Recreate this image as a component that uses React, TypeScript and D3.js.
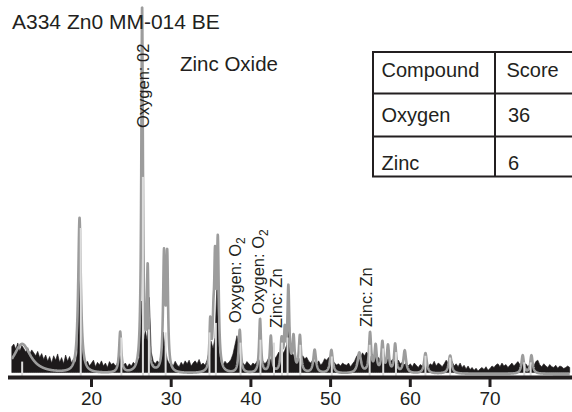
import React from "react";
import * as d3 from "d3";

// ---------- data ----------
const chartTitle = "A334 Zn0 MM-014 BE";
const phaseName = "Zinc Oxide";

// measured (black) pattern: counts every 0.25 deg from 10 deg
const blackStart = 10;
const blackStep = 0.25;
const blackCounts = [
  75, 82, 68, 85, 62, 78, 70, 60, 72, 55, 66, 58, 50, 62, 45, 56,
  40, 52, 35, 48, 30, 50, 38, 55, 32, 45, 28, 52, 35, 48, 30, 42,
  30, 60, 330, 90, 40, 28, 35, 22, 30, 38, 20, 32, 25, 36, 22, 30,
  18, 34, 26, 30, 22, 30, 60, 35, 24, 30, 20, 28, 22, 32, 26, 35,
  45, 200, 80, 120, 90, 210, 60, 35, 28, 36, 30, 40, 115, 70, 40, 28,
  30, 22, 35, 25, 20, 32, 24, 36, 28, 38, 22, 30, 36, 28, 40, 25,
  30, 24, 38, 60, 90, 70, 100, 250, 60, 30, 25, 35, 28, 32, 40, 55,
  80, 105, 70, 40, 30, 24, 34, 28, 22, 30, 26, 34, 40, 30, 36, 28,
  34, 45, 38, 55, 42, 50, 60, 48, 55, 65, 80, 170, 70, 55, 48, 40,
  45, 38, 50, 42, 46, 35, 30, 38, 32, 28, 36, 25, 30, 42, 38, 45,
  48, 36, 30, 25, 28, 22, 30, 26, 24, 30, 20, 28, 35, 48, 55, 45,
  58, 50, 60, 52, 48, 55, 42, 50, 45, 38, 50, 40, 36, 44, 32, 40,
  35, 30, 38, 28, 32, 26, 30, 22, 28, 20, 30, 24, 18, 26, 22, 30,
  25, 20, 28, 24, 35, 22, 30, 26, 20, 28, 38, 30, 25, 34, 22, 28,
  20, 30, 18, 24, 14, 22, 12, 18, 10, 16, 8, 14, 18, 12, 20, 10,
  15, 22, 18, 25, 28, 20, 30, 22, 26, 18, 24, 30, 22, 28, 34, 26,
  30, 24, 28, 20, 26, 30, 22, 34, 38, 25, 20, 28, 22, 18, 26, 20,
  18, 24, 16, 22, 20, 15, 18, 22, 18,
];

// fitted (grey) pattern: reflections
const peakPositions = [
  11.3, 18.5, 23.6, 26.35, 27.05, 29.1, 29.5, 34.9, 35.3, 35.5, 35.85,
  38.6, 41.15, 42.5, 43.85, 44.25, 44.7, 45.35, 46.15, 48.0, 50.1,
  53.6, 54.95, 55.65, 56.5, 57.2, 58.1, 59.3, 61.9, 65.0, 74.1, 75.2,
];
const peakHeights = [
  82, 425, 112, 1000, 272, 315, 305, 130, 100, 270, 345,
  118, 148, 100, 85, 100, 228, 92, 100, 64, 64,
  56, 108, 72, 82, 72, 78, 62, 56, 50, 50, 50,
];
const peakWidths = [
  1.3, 0.2, 0.16, 0.12, 0.12, 0.14, 0.12, 0.12, 0.12, 0.12, 0.14,
  0.16, 0.14, 0.15, 0.15, 0.12, 0.14, 0.15, 0.16, 0.2, 0.2,
  0.25, 0.16, 0.16, 0.16, 0.16, 0.16, 0.2, 0.2, 0.22, 0.18, 0.18,
];

// reference sticks (light grey)
const stickPositions = [
  11.3, 18.65, 23.75, 26.45, 27.2, 29.3, 34.8, 35.6, 38.7, 41.2, 42.9,
  43.9, 44.6, 46.2, 50.15, 54.9, 56.6, 58.2, 61.9, 65.0, 74.3, 75.1,
];
const stickHeights = [
  34, 400, 100, 540, 122, 114, 114, 140, 86, 94, 86,
  86, 100, 80, 48, 80, 70, 60, 50, 45, 32, 32,
];

// peak annotations
const labelMain = ["Oxygen: 02", "Oxygen: O", "Oxygen: O", "Zinc: Zn", "Zinc: Zn"];
const labelSub = ["", "2", "2", "", ""];
const labelPositions = [26.46, 38.0, 40.9, 43.2, 54.5];
const labelLevels = [674, 140, 162, 126, 129];

// table
const tableHeader = ["Compound", "Score"];
const tableCompounds = ["Oxygen", "Zinc"];
const tableScores = ["36", "6"];

const xTicks = [20, 30, 40, 50, 60, 70];

// ---------- chart ----------
const W = 572;
const H = 412;
const INK = "#231f20";
const FONT = "'Liberation Sans', Arial, Helvetica, sans-serif";

export default function App() {
  const x = d3.scaleLinear().domain([10, 80]).range([11.8, 569.7]);
  const y = d3.scaleLinear().domain([0, 1000]).range([374, 9]);

  const blackArea = d3
    .area<number>()
    .x((_, i) => x(blackStart + i * blackStep))
    .y0(y(4))
    .y1((d) => y(d))
    .curve(d3.curveLinear)(blackCounts) as string;

  const profileAt = (t: number) => {
    let s = 0;
    for (let k = 0; k < peakPositions.length; k++) {
      const u = (t - peakPositions[k]) / peakWidths[k];
      s += peakHeights[k] / (1 + u * u);
    }
    return s;
  };
  const grid = d3.range(10, 80.0001, 0.02);
  const greyLine = d3
    .line<number>()
    .x((t) => x(t))
    .y((t) => y(profileAt(t)))(grid) as string;

  const tableLeft = 373;
  const tableRight = 590;
  const colDiv = 495;
  const rowLines = [52, 93.5, 136.5, 176.5];

  return (
    <svg
      width={W}
      height={H}
      viewBox={`0 0 ${W} ${H}`}
      style={{ position: "absolute", left: 0, top: 0, background: "#fff" }}
      fontFamily={FONT}
    >
      <rect x={0} y={0} width={W} height={H} fill="#fff" />

      {/* measured pattern */}
      <path d={blackArea} fill="#1d1a1b" stroke="#1d1a1b" strokeWidth={0.6} />

      {/* fitted pattern */}
      <path d={greyLine} fill="none" stroke="#9c9c9c" strokeWidth={2.6} strokeLinejoin="round" />

      {/* reference sticks */}
      {stickPositions.map((p, i) => (
        <line
          key={"s" + i}
          x1={x(p)}
          x2={x(p)}
          y1={y(0) + 2}
          y2={y(stickHeights[i])}
          stroke="#dcdcdc"
          strokeWidth={2}
        />
      ))}

      {/* axis */}
      <line x1={8} x2={572} y1={377.5} y2={377.5} stroke={INK} strokeWidth={4} />
      {xTicks.map((t) => (
        <g key={"t" + t}>
          <line x1={x(t)} x2={x(t)} y1={378} y2={387} stroke={INK} strokeWidth={3} />
          <text x={x(t)} y={405} fontSize={19} textAnchor="middle" fill={INK}>
            {t}
          </text>
        </g>
      ))}

      {/* peak labels */}
      {labelMain.map((m, i) => (
        <text
          key={"l" + i}
          transform={`translate(${x(labelPositions[i])},${y(labelLevels[i])}) rotate(-90)`}
          dy="0.36em"
          fontSize={16.5}
          fill={INK}
        >
          {m}
          {labelSub[i] ? (
            <tspan fontSize={12} dy={4}>
              {labelSub[i]}
            </tspan>
          ) : null}
        </text>
      ))}

      {/* titles */}
      <text x={12} y={29} fontSize={21} fill={INK}>
        {chartTitle}
      </text>
      <text x={180} y={71} fontSize={20.5} fill={INK}>
        {phaseName}
      </text>

      {/* table */}
      <g stroke={INK} strokeWidth={2} fill="none">
        <rect x={tableLeft} y={rowLines[0]} width={tableRight - tableLeft} height={rowLines[3] - rowLines[0]} />
        <line x1={tableLeft} x2={tableRight} y1={rowLines[1]} y2={rowLines[1]} />
        <line x1={tableLeft} x2={tableRight} y1={rowLines[2]} y2={rowLines[2]} />
        <line x1={colDiv} x2={colDiv} y1={rowLines[0]} y2={rowLines[3]} />
      </g>
      <g fontSize={20} fill={INK}>
        <text x={381.5} y={77}>{tableHeader[0]}</text>
        <text x={506.5} y={77}>{tableHeader[1]}</text>
        {tableCompounds.map((c, i) => (
          <g key={"r" + i}>
            <text x={381.5} y={122 + i * 48}>{c}</text>
            <text x={508} y={122 + i * 48}>{tableScores[i]}</text>
          </g>
        ))}
      </g>
    </svg>
  );
}
